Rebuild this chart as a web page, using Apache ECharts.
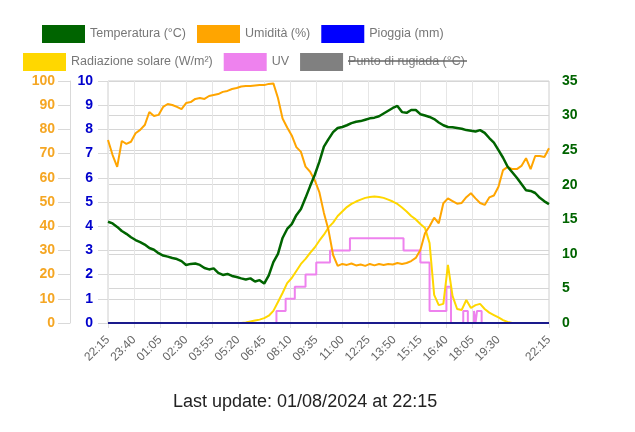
<!DOCTYPE html>
<html>
<head>
<meta charset="utf-8">
<script src="https://cdn.jsdelivr.net/npm/echarts@6/dist/echarts.min.js"></script>
<style>
html,body{margin:0;padding:0;background:#fff;}
#chart{width:635px;height:432px;}
</style>
</head>
<body>
<div id="chart"></div>
<script>
// ---- data (15-minute samples starting 22:15) ----
var startTime = '22:15';
var slotMinutes = 5;            // category slot size
var sampleStep = 15;            // minutes between samples
var labelEvery = 85;            // minutes between x labels

var temperature = [14.65,14.4,13.9,13.3,12.9,12.4,12.0,11.7,11.35,10.85,
  10.6,10.1,9.75,9.6,9.4,9.25,8.95,8.4,8.55,8.6,
  8.4,7.95,7.75,7.9,7.25,6.95,7.1,6.8,6.65,6.45,
  6.3,6.45,6.0,6.2,5.7,6.9,8.8,10.0,12.3,13.6,
  14.3,15.6,16.5,18.1,19.8,21.4,23.3,25.5,26.6,27.6,
  28.2,28.35,28.6,28.9,29.1,29.2,29.4,29.6,29.7,29.9,
  30.3,30.7,31.1,31.4,30.5,30.4,30.8,30.8,30.2,30.0,
  29.8,29.5,29.0,28.6,28.35,28.3,28.2,28.1,27.9,27.8,
  27.7,27.9,27.5,26.75,26.1,25.0,23.9,22.6,21.8,21.0,
  20.1,19.2,19.1,18.8,18.1,17.6,17.2];

var humidity = [75.6,69.4,64.5,75.2,74.0,74.9,78.4,79.8,81.8,87.2,
  85.5,86.0,89.3,90.5,90.1,89.3,88.4,90.9,91.3,92.6,
  93.0,92.6,93.8,94.2,94.6,95.5,95.9,96.7,97.1,97.7,
  97.9,97.9,98.1,98.3,98.3,98.8,99.0,93.0,84.5,80.8,
  77.5,72.7,70.7,64.6,62.5,59.0,54.1,45.5,38.4,28.1,
  23.6,24.4,24.0,24.6,23.8,24.2,23.6,24.4,23.8,24.4,
  24.0,24.4,24.2,24.8,24.4,24.8,25.6,26.9,30.2,37.1,
  40.0,43.5,41.2,49.5,51.5,50.4,49.3,49.6,52.0,53.6,
  51.5,49.6,48.8,51.9,52.7,56.3,63.2,64.5,63.6,63.6,
  64.9,68.1,63.6,69.0,69.0,68.6,72.2];

var radiation = [0,0,0,0,0,0,0,0,0,0,
  0,0,0,0,0,0,0,0,0,0,
  0,0,0,0,0,0,0,0,0,0,
  2,6,10,14,20,30,50,87,124,165,
  186,215,244,265,290,312,340,365,395,415,
  442,461,479,492,502,510,517,521,523,521,
  517,510,502,492,477,461,442,428,409,393,
  330,116,74,79,240,112,58,54,95,62,
  74,79,58,43,33,23,12,4,0,0,
  0,0,0,0,0,0,0];

// rain: hourly readings (mm)
var rainStep = 60;
var rain = [0,0,0,0,0,0,0,0,0,0,0,0,0,0,0,0,0,0,0,0,0,0,0,0,0];

// UV index change points: minutes since 22:15 and new value
var uvMinutes = [0,550,580,610,645,680,725,790,965,1020,1050,1105,1120,1160,1175,1195,1200,1205,1220,1440];
var uvValues  = [0,1,2,3,4,5,6,7,6,5,1,3,0,1,0,1,0,1,0,0];

var dewPoint = []; // series hidden in the legend

var seriesNames = ['Temperatura (°C)','Umidità (%)','Pioggia (mm)','Radiazione solare (W/m²)','UV','Punto di rugiada (°C)'];
var lastUpdate = 'Last update: 01/08/2024 at 22:15';

// ---- build the category axis (5-minute slots over 24h) ----
function pad(n){return (n<10?'0':'')+n;}
var st = startTime.split(':');
var startMin = (+st[0])*60 + (+st[1]);
var categories = [];
for (var m = 0; m <= 1440; m += slotMinutes) {
  var t = (startMin + m) % 1440;
  categories.push(pad(Math.floor(t/60)) + ':' + pad(t%60));
}
var lastIdx = categories.length - 1;
var labelSlots = labelEvery / slotMinutes;
function labelShown(idx) {
  if (idx === lastIdx) return true;
  return idx % labelSlots === 0 && idx <= lastIdx - labelSlots * 1.5;
}

function toPairs(arr, stepMin) {
  var k = stepMin / slotMinutes;
  return arr.map(function (v, i) { return [i * k, v]; });
}
var uvPairs = uvMinutes.map(function (m, i) { return [m / slotMinutes, uvValues[i]]; });

var FONT = 'Liberation Sans, Arial, sans-serif';
var gridH = '#d6d6d6';

var chart = echarts.init(document.getElementById('chart'), null, {renderer: 'canvas'});
chart.setOption({
  animation: false,
  textStyle: {fontFamily: FONT},
  title: {
    text: lastUpdate, left: 173, top: 393, padding: 0,
    textStyle: {fontSize: 18, fontWeight: 'normal', color: '#222', fontFamily: FONT}
  },
  legend: [{
    data: seriesNames.slice(0, 3),
    left: 42, top: 25, padding: 0,
    itemWidth: 43, itemHeight: 18, itemGap: 11,
    icon: 'rect',
    textStyle: {color: '#777', fontSize: 12.5, fontFamily: FONT}
  }, {
    data: seriesNames.slice(3),
    left: 23, top: 53, padding: 0,
    itemWidth: 43, itemHeight: 18, itemGap: 11,
    icon: 'rect',
    inactiveColor: '#808080',
    selected: {'Punto di rugiada (°C)': false},
    textStyle: {color: '#777', fontSize: 12.5, fontFamily: FONT}
  }],
  graphic: [{
    type: 'line', z: 100,
    shape: {x1: 348, y1: 61, x2: 467, y2: 61},
    style: {stroke: '#666', lineWidth: 1.3}
  }],
  grid: {left: 108, right: 86, top: 81, bottom: 109, show: true, borderColor: '#cfcfcf', borderWidth: 1},
  xAxis: {
    type: 'category', data: categories, boundaryGap: false,
    axisLine: {show: true, lineStyle: {color: '#cfcfcf'}},
    axisTick: {show: true, length: 5, interval: labelShown, lineStyle: {color: '#e0e0e0'}},
    axisLabel: {interval: labelShown, rotate: 45, color: '#666', fontSize: 12, margin: 15, fontFamily: FONT},
    splitLine: {show: true, interval: labelShown, lineStyle: {color: '#e6e6e6'}}
  },
  yAxis: [{
    type: 'value', min: 0, max: 100, interval: 10, position: 'left', offset: 38,
    axisLine: {show: true, lineStyle: {color: '#d9d9d9'}},
    axisTick: {show: true, length: 12, lineStyle: {color: '#d9d9d9'}},
    axisLabel: {color: '#f5a623', fontWeight: 'bold', fontSize: 14, margin: 15, fontFamily: FONT},
    splitLine: {show: true, lineStyle: {color: gridH}}
  }, {
    type: 'value', min: 0, max: 10, interval: 1, position: 'left', offset: 0,
    axisLine: {show: false},
    axisTick: {show: true, length: 10, lineStyle: {color: '#d9d9d9'}},
    axisLabel: {color: '#0000cc', fontWeight: 'bold', fontSize: 14, margin: 15, fontFamily: FONT},
    splitLine: {show: false}
  }, {
    type: 'value', min: 0, max: 35, interval: 5, position: 'right',
    axisLine: {show: false}, axisTick: {show: false},
    axisLabel: {color: '#006400', fontWeight: 'bold', fontSize: 14, margin: 13, fontFamily: FONT},
    splitLine: {show: true, lineStyle: {color: gridH}}
  }, {
    type: 'value', min: 0, max: 1000, show: false
  }, {
    type: 'value', min: 0, max: 20, show: false
  }],
  series: [{
    name: seriesNames[5], type: 'line', yAxisIndex: 2, data: dewPoint,
    color: '#808080', showSymbol: false, lineStyle: {width: 2}
  }, {
    name: seriesNames[4], type: 'line', yAxisIndex: 4, data: uvPairs, step: 'end',
    color: '#ee82ee', showSymbol: false, lineStyle: {width: 2}
  }, {
    name: seriesNames[3], type: 'line', yAxisIndex: 3, data: toPairs(radiation, sampleStep),
    color: '#ffd700', showSymbol: false, lineStyle: {width: 2}
  }, {
    name: seriesNames[2], type: 'line', yAxisIndex: 1, data: toPairs(rain, rainStep),
    color: '#0000ff', showSymbol: false, lineStyle: {width: 2, color: '#1a1a8c'}
  }, {
    name: seriesNames[1], type: 'line', yAxisIndex: 0, data: toPairs(humidity, sampleStep),
    color: '#ffa500', showSymbol: false, lineStyle: {width: 2}
  }, {
    name: seriesNames[0], type: 'line', yAxisIndex: 2, data: toPairs(temperature, sampleStep),
    color: '#006400', showSymbol: false, lineStyle: {width: 2.5}
  }]
});
</script>
</body>
</html>
